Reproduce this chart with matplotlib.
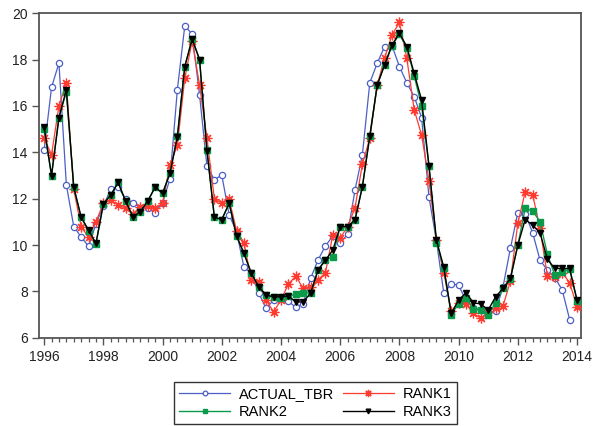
import numpy as np
import matplotlib
matplotlib.use("Agg")
import matplotlib.pyplot as plt

plt.rcParams['font.family'] = ['Liberation Sans', 'DejaVu Sans']

start_year = 1996
n_obs = 73  # 1996Q1 .. 2014Q1

actual_tbr = [14.1, 16.8, 17.85, 12.6, 10.8, 10.35, 9.95, 10.9, 11.7, 12.4,
              12.5, 12.0, 11.83, 11.6, 11.6, 11.4, 11.83, 12.85, 16.7, 19.45,
              19.1, 16.47, 13.4, 12.82, 13.02, 11.3, 10.57, 9.04, 8.78, 7.92,
              7.27, 7.63, 7.75, 7.58, 7.31, 7.48, 8.56, 9.35, 9.96, 10.39,
              10.1, 10.47, 12.37, 13.9, 17.0, 17.84, 18.56, 18.6, 17.7, 17.0,
              16.4, 15.5, 12.06, 10.2, 7.92, 8.32, 8.28, 7.6, 7.3, 7.2,
              7.1, 7.15, 8.2, 9.86, 11.4, 11.35, 10.53, 9.35, 8.92, 8.6,
              8.06, 6.79, np.nan]
rank1 = [14.6, 13.9, 16.0, 17.0, 12.4, 10.8, 10.33, 11.0, 11.8, 11.94,
         11.73, 11.58, 11.35, 11.65, 11.7, 11.58, 11.8, 13.45, 14.3, 17.2,
         18.8, 16.9, 14.6, 12.0, 11.8, 11.97, 10.62, 10.1, 8.49, 8.42,
         7.63, 7.12, 7.63, 8.32, 8.66, 8.13, 8.2, 8.5, 8.8, 10.43,
         10.3, 10.8, 11.6, 13.5, 14.6, 16.9, 18.06, 19.06, 19.6, 18.06,
         15.83, 14.75, 12.78, 10.2, 8.8, 7.16, 7.5, 7.45, 7.05, 6.84,
         7.12, 7.3, 7.37, 8.45, 10.94, 12.3, 12.18, 10.72, 8.66, 8.63,
         8.8, 8.38, 7.34]
rank2 = [15.0, 13.0, 15.5, 16.6, 12.5, 11.2, 10.6, 10.05, 11.77, 12.16,
         12.7, 11.9, 11.2, 11.44, 11.9, 12.5, 12.23, 13.1, 14.7, 17.7,
         18.9, 18.0, 14.1, 11.2, 11.1, 11.8, 10.39, 9.64, 8.78, 8.2,
         7.84, 7.77, 7.7, 7.8, 7.87, 7.95, 7.92, 8.92, 9.37, 9.5,
         10.8, 10.8, 11.08, 12.52, 14.7, 16.9, 17.77, 18.6, 19.1, 18.5,
         17.3, 16.0, 13.4, 10.1, 9.0, 7.0, 7.47, 7.73, 7.24, 7.2,
         7.0, 7.5, 8.13, 8.55, 10.0, 11.58, 11.48, 11.0, 9.6, 8.7,
         8.85, 8.95, 7.6]
rank3 = [15.1, 13.0, 15.5, 16.7, 12.5, 11.2, 10.65, 10.07, 11.77, 12.16,
         12.7, 11.9, 11.22, 11.44, 11.9, 12.5, 12.23, 13.1, 14.67, 17.7,
         18.88, 18.0, 14.07, 11.2, 11.1, 11.8, 10.39, 9.64, 8.78, 8.2,
         7.84, 7.77, 7.77, 7.8, 7.55, 7.55, 7.92, 8.92, 9.35, 9.78,
         10.8, 10.8, 11.08, 12.52, 14.7, 16.9, 17.77, 18.63, 19.14, 18.56,
         17.4, 16.26, 13.41, 10.22, 9.04, 7.05, 7.63, 7.94, 7.51, 7.46,
         7.2, 7.77, 8.13, 8.56, 10.0, 11.1, 10.86, 10.53, 9.38, 8.99,
         8.99, 8.99, 7.63]

series_names = ["ACTUAL_TBR", "RANK1", "RANK2", "RANK3"]
year_ticks = list(range(1996, 2015, 2))
y_ticks = [6, 8, 10, 12, 14, 16, 18, 20]

t = start_year + np.arange(n_obs) / 4.0

fig = plt.figure(figsize=(5.97, 4.26), dpi=100)
ax = fig.add_axes([0.065, 0.207, 0.908, 0.762])

blue = '#4c5fc4'
red = '#ff3b30'
green = '#0a9a4a'

h_a, = ax.plot(t, actual_tbr, color=blue, lw=0.9, marker='o', ms=4.5,
               mfc='white', mec=blue, mew=0.9, label=series_names[0], zorder=2)
h_r1, = ax.plot(t, rank1, color=red, lw=0.9, marker=(8, 2, 0), ms=7,
                mec=red, mew=0.9, label=series_names[1], zorder=3)
h_r2, = ax.plot(t, rank2, color=green, lw=1.0, marker='s', ms=4.5,
                mfc=green, mec=green, label=series_names[2], zorder=4)
h_r3, = ax.plot(t, rank3, color='black', lw=1.0, marker='v', ms=4.5,
                mfc='black', mec='black', label=series_names[3], zorder=5)

ax.set_xlim(1995.82, 2014.13)
ax.set_ylim(6, 20)
ax.set_yticks(y_ticks)
ax.set_xticks(year_ticks)
ax.set_xticklabels([str(y) for y in year_ticks])
ax.set_xticks(np.arange(1996, 2014.01, 0.25), minor=True)

for s in ax.spines.values():
    s.set_color('#555555')
    s.set_linewidth(1.3)

ax.tick_params(axis='both', which='major', direction='out', length=5,
               width=1.0, color='#555555', labelsize=10, labelcolor='#222222')
ax.tick_params(axis='x', which='minor', direction='out', length=3,
               width=0.9, color='#555555')
ax.tick_params(axis='y', which='major', pad=3)
ax.tick_params(axis='x', which='major', pad=4)

leg = fig.legend([h_a, h_r2, h_r1, h_r3],
                 [series_names[0], series_names[2], series_names[1], series_names[3]],
                 ncol=2, loc='upper center', bbox_to_anchor=(0.528, 0.103),
                 bbox_transform=fig.transFigure, frameon=True, fancybox=False,
                 edgecolor='black', fontsize=10.5, handlelength=3.5,
                 columnspacing=0.6, handletextpad=0.6, labelspacing=0.25,
                 borderpad=0.35, borderaxespad=0.0, markerscale=0.75)
leg.get_frame().set_linewidth(1.0)

fig.savefig('out.png', dpi=100)
